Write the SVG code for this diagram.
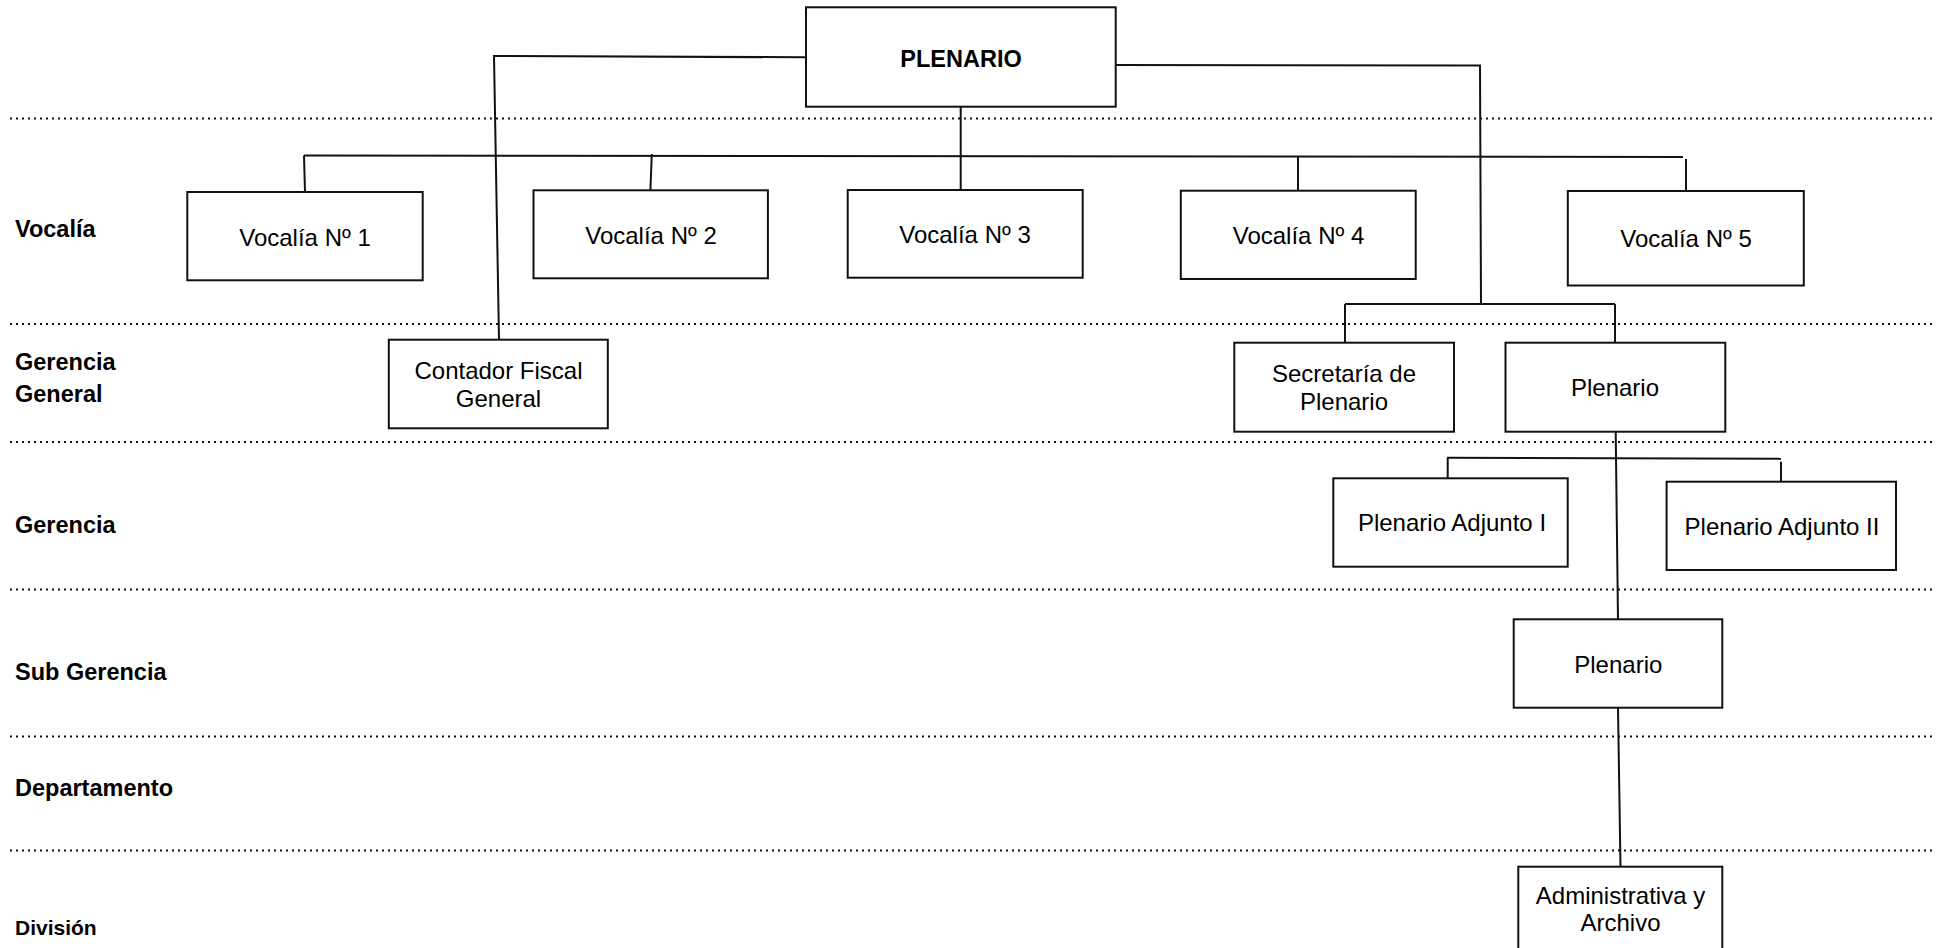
<svg xmlns="http://www.w3.org/2000/svg" width="1948" height="948" viewBox="0 0 1948 948">
<style>
.bg{fill:#fff}
.sep{stroke:#111;stroke-width:2;stroke-dasharray:2 4;fill:none}
.box{fill:#fff;stroke:#111;stroke-width:2}
.lbl{font-family:"Liberation Sans",Arial,sans-serif;font-weight:bold;font-size:23.5px;fill:#000}
.t{font-family:"Liberation Sans",Arial,sans-serif;font-size:24px;fill:#000;text-anchor:middle}
.tb{font-family:"Liberation Sans",Arial,sans-serif;font-size:23.5px;font-weight:bold;fill:#000;text-anchor:middle}
.c{stroke:#111;stroke-width:2;fill:none}
</style>
<rect class="bg" x="0" y="0" width="1948" height="948"/>
<g id="separators">
<line class="sep" x1="10" y1="118.5" x2="1936" y2="118.5"/>
<line class="sep" x1="10" y1="324" x2="1936" y2="324"/>
<line class="sep" x1="10" y1="442" x2="1936" y2="442"/>
<line class="sep" x1="10" y1="589.5" x2="1936" y2="589.5"/>
<line class="sep" x1="10" y1="736.5" x2="1936" y2="736.5"/>
<line class="sep" x1="10" y1="850.5" x2="1936" y2="850.5"/>
</g>
<g id="levels">
<text class="lbl" x="15" y="237">Vocalía</text>
<text class="lbl" x="15" y="370">Gerencia</text>
<text class="lbl" x="15" y="401.5">General</text>
<text class="lbl" x="15" y="533">Gerencia</text>
<text class="lbl" x="15" y="680">Sub Gerencia</text>
<text class="lbl" x="15" y="795.5">Departamento</text>
<text class="lbl" x="15" y="935" style="font-size:21px">División</text>
</g>
<g id="connectors">
<polyline class="c" points="806,57.3 494,56 499,339.5"/>
<line class="c" x1="960.7" y1="106.7" x2="960.7" y2="190"/>
<line class="c" x1="304" y1="155.5" x2="1683" y2="157"/>
<line class="c" x1="304" y1="155.5" x2="305" y2="192"/>
<line class="c" x1="651.8" y1="154" x2="650.4" y2="190.3"/>
<line class="c" x1="1298" y1="156.5" x2="1298" y2="190.7"/>
<line class="c" x1="1686" y1="159" x2="1686" y2="191"/>
<polyline class="c" points="1115.7,65 1480,65.5 1481,304"/>
<line class="c" x1="1345" y1="304" x2="1615" y2="304"/>
<line class="c" x1="1345" y1="304" x2="1345" y2="342.7"/>
<line class="c" x1="1615" y1="304" x2="1615" y2="342.7"/>
<line class="c" x1="1615.7" y1="431.7" x2="1618" y2="619.3"/>
<line class="c" x1="1447" y1="457.8" x2="1781" y2="458.7"/>
<line class="c" x1="1447.7" y1="458" x2="1447.7" y2="478.3"/>
<line class="c" x1="1781" y1="461.7" x2="1781" y2="481.7"/>
<line class="c" x1="1618" y1="707.7" x2="1620.5" y2="866.7"/>
</g>
<g id="plenario">
<rect class="box" x="806" y="7.3" width="309.7" height="99.4"/>
<text class="tb" x="961" y="66.7">PLENARIO</text>
</g>
<g id="vocalia1">
<rect class="box" x="187.3" y="192" width="235.4" height="88.3"/>
<text class="t" x="305" y="245.7">Vocalía Nº 1</text>
</g>
<g id="vocalia2">
<rect class="box" x="533.5" y="190.3" width="234.4" height="88"/>
<text class="t" x="651" y="243.5">Vocalía Nº 2</text>
</g>
<g id="vocalia3">
<rect class="box" x="847.7" y="190" width="235" height="87.7"/>
<text class="t" x="965" y="242.7">Vocalía Nº 3</text>
</g>
<g id="vocalia4">
<rect class="box" x="1180.8" y="190.7" width="234.9" height="88.3"/>
<text class="t" x="1298.5" y="244.3">Vocalía Nº 4</text>
</g>
<g id="vocalia5">
<rect class="box" x="1567.8" y="191" width="236" height="94.5"/>
<text class="t" x="1686" y="247.3">Vocalía Nº 5</text>
</g>
<g id="contador">
<rect class="box" x="388.8" y="339.7" width="219" height="88.6"/>
<text class="t" x="498.5" y="379">Contador Fiscal</text>
<text class="t" x="498.5" y="406.7">General</text>
</g>
<g id="secretaria">
<rect class="box" x="1234.3" y="342.7" width="219.7" height="89"/>
<text class="t" x="1344" y="381.7">Secretaría de</text>
<text class="t" x="1344" y="410">Plenario</text>
</g>
<g id="plenario-gg">
<rect class="box" x="1505.5" y="342.7" width="219.8" height="89"/>
<text class="t" x="1615" y="396">Plenario</text>
</g>
<g id="adjunto1">
<rect class="box" x="1333.3" y="478.3" width="234.4" height="88.4"/>
<text class="t" x="1452" y="530.7">Plenario Adjunto I</text>
</g>
<g id="adjunto2">
<rect class="box" x="1666.6" y="481.7" width="229.4" height="88.3"/>
<text class="t" x="1782" y="535">Plenario Adjunto II</text>
</g>
<g id="plenario-sg">
<rect class="box" x="1513.7" y="619.3" width="208.6" height="88.4"/>
<text class="t" x="1618.3" y="673.3">Plenario</text>
</g>
<g id="administrativa">
<rect class="box" x="1518.3" y="866.7" width="204" height="100"/>
<text class="t" x="1620.5" y="904">Administrativa y</text>
<text class="t" x="1620.5" y="930.7">Archivo</text>
</g>
</svg>
